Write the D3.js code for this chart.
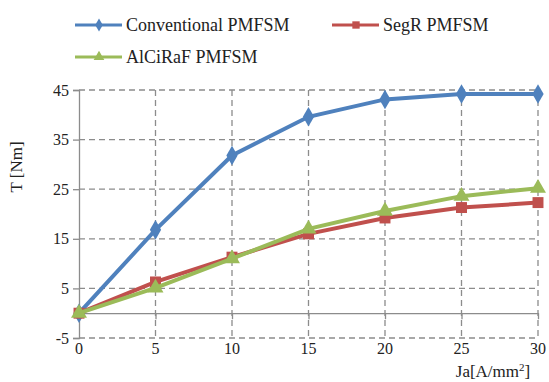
<!DOCTYPE html>
<html lang="en">
<head>
<meta charset="UTF-8">
<title>Torque vs current density</title>
<script src="https://d3js.org/d3.v7.min.js"></script>
<style>
  body { margin: 0; background: #fff; }
  svg text { font-family: 'Liberation Serif', 'Times New Roman', 'DejaVu Serif', serif !important; fill: #222; }
  .grid line { stroke: #8c8c8c; stroke-dasharray: 6,4; stroke-width: 1.3px; }
  .line { fill: none; stroke-width: 4px; }
</style>
</head>
<body>
<svg width="549" height="382"></svg>
<script>
// x values (current density) and torque series
const ja = [0, 5, 10, 15, 20, 25, 30];
const conventional = [0, 16.8, 31.8, 39.6, 43.1, 44.2, 44.2];
const segR = [0, 6.3, 11.3, 16.0, 19.2, 21.3, 22.3];
const alCiRaF = [0, 5.1, 11.0, 17.0, 20.6, 23.6, 25.2];
const xTicks = [0, 5, 10, 15, 20, 25, 30];
const yTicks = [-5, 5, 15, 25, 35, 45];

const series = [
  {name: "Conventional PMFSM", values: conventional, color: "#4f81bd", symbol: d3.symbolDiamond, size: 110},
  {name: "SegR PMFSM", values: segR, color: "#c0504d", symbol: d3.symbolSquare, size: 120},
  {name: "AlCiRaF PMFSM", values: alCiRaF, color: "#9bbb59", symbol: d3.symbolTriangle, size: 110}
];

const serif = "'Liberation Serif', 'Times New Roman', serif";
const svg = d3.select("svg").attr("font-family", serif);

const x = d3.scaleLinear().domain([0, 30]).range([79, 538]);
const y = d3.scaleLinear().domain([-5, 45]).range([338, 90]);

// dashed grid
const grid = svg.append("g").attr("class", "grid");
grid.selectAll(".h").data(yTicks).join("line")
  .attr("x1", x(0)).attr("x2", x(30))
  .attr("y1", d => y(d)).attr("y2", d => y(d));
grid.selectAll(".v").data(xTicks.filter(d => d > 0)).join("line")
  .attr("x1", d => x(d)).attr("x2", d => x(d))
  .attr("y1", y(45)).attr("y2", y(-5));

// y axis
const yAxis = svg.append("g")
  .attr("transform", "translate(" + x(0) + ",0)")
  .call(d3.axisLeft(y).tickValues(yTicks).tickSize(6).tickPadding(4).tickFormat(d => String(d)));
yAxis.attr("font-family", serif);
yAxis.select(".domain").attr("stroke", "#8c8c8c").attr("stroke-width", 1.3);
yAxis.selectAll(".tick line").attr("stroke", "#8c8c8c").attr("stroke-width", 1.3);
yAxis.selectAll("text").style("font-size", "16px").style("font-family", serif).attr("fill", "#222");

// x axis line at zero, labels at the bottom
const xAxis = svg.append("g")
  .attr("transform", "translate(0," + y(0) + ")")
  .call(d3.axisBottom(x).tickValues(xTicks).tickSize(6).tickSizeOuter(0).tickFormat(""));
xAxis.select(".domain").attr("stroke", "#8c8c8c").attr("stroke-width", 1.3);
xAxis.selectAll(".tick line").attr("stroke", "#8c8c8c").attr("stroke-width", 1.3);

svg.append("g").selectAll("text").data(xTicks).join("text")
  .attr("x", d => x(d)).attr("y", 354)
  .attr("text-anchor", "middle")
  .style("font-size", "16px")
  .style("font-family", serif)
  .text(d => d);

// lines and markers
const line = d3.line().x((d, i) => x(ja[i])).y(d => y(d));
series.forEach(s => {
  svg.append("path").attr("class", "line")
    .attr("stroke", s.color)
    .attr("d", line(s.values));
  svg.append("g").selectAll("path").data(s.values).join("path")
    .attr("transform", (d, i) => "translate(" + x(ja[i]) + "," + y(d) + ")")
    .attr("d", d3.symbol().type(s.symbol).size(s.size))
    .attr("fill", s.color);
});

// axis titles
svg.append("text")
  .attr("transform", "translate(22,167) rotate(-90)")
  .attr("text-anchor", "middle")
  .style("font-size", "17px")
  .style("font-family", serif)
  .text("T [Nm]");

const xt = svg.append("text")
  .attr("x", 493).attr("y", 377)
  .attr("text-anchor", "middle")
  .style("font-size", "17px")
  .style("font-family", serif);
xt.append("tspan").text("Ja[A/mm");
xt.append("tspan").attr("dy", -6).style("font-size", "11px").text("2");
xt.append("tspan").attr("dy", 6).text("]");

// legend
const legendPos = [[75, 25], [332, 25], [75, 57]];
series.forEach((s, i) => {
  const [lx, ly] = legendPos[i];
  const g = svg.append("g").attr("transform", "translate(" + lx + "," + ly + ")");
  g.append("line").attr("x1", 0).attr("x2", 47).attr("y1", 0).attr("y2", 0)
    .attr("stroke", s.color).attr("stroke-width", 3);
  g.append("path").attr("transform", "translate(24,0)")
    .attr("d", d3.symbol().type(s.symbol).size(s.size * 0.45))
    .attr("fill", s.color);
  g.append("text").attr("x", 51).attr("y", 6)
    .style("font-size", "18px")
    .style("font-family", serif)
    .text(s.name);
});
</script>
</body>
</html>
